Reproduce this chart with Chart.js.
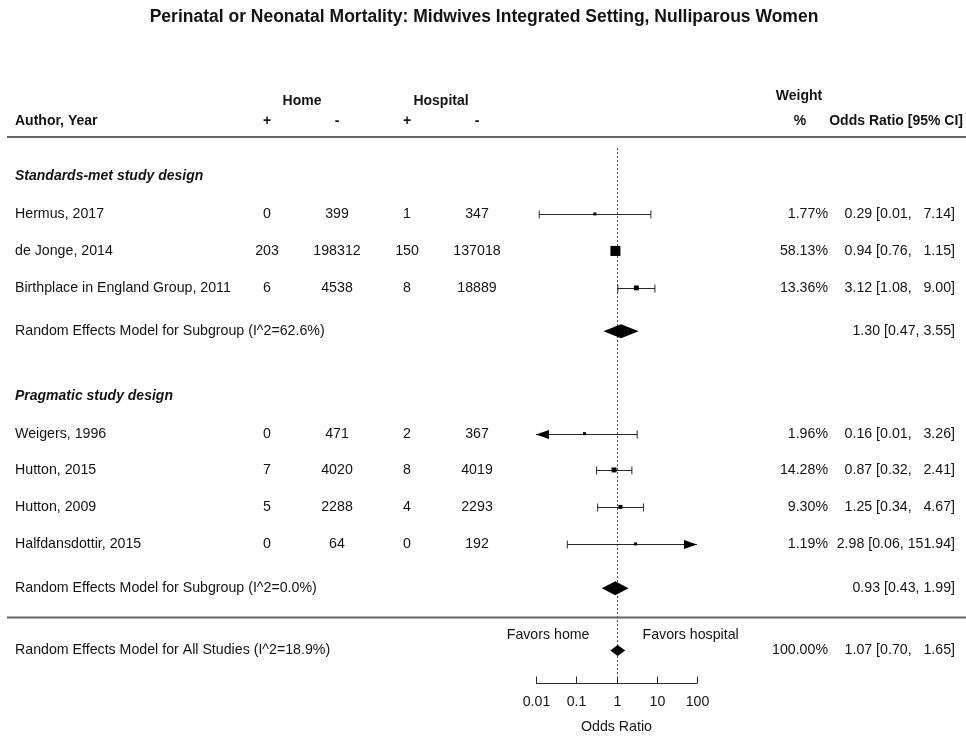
<!DOCTYPE html>
<html>
<head>
<meta charset="utf-8">
<script src="https://cdn.jsdelivr.net/npm/chart.js@4.4.1/dist/chart.umd.min.js"></script>
<style>
  html, body { margin: 0; padding: 0; background: #fff; }
  #wrap { width: 966px; height: 739px; position: relative; }
</style>
</head>
<body>
<div id="wrap"><canvas id="forest"></canvas></div>
<script>
// data
const titleText = "Perinatal or Neonatal Mortality: Midwives Integrated Setting, Nulliparous Women";
const groupNames = ["Standards-met study design", "Pragmatic study design"];
const studies = ["Hermus, 2017", "de Jonge, 2014", "Birthplace in England Group, 2011",
                 "Weigers, 1996", "Hutton, 2015", "Hutton, 2009", "Halfdansdottir, 2015"];
const studyGroup = [0, 0, 0, 1, 1, 1, 1];
const homePos = [0, 203, 6, 0, 7, 5, 0];
const homeNeg = [399, 198312, 4538, 471, 4020, 2288, 64];
const hospPos = [1, 150, 8, 2, 8, 4, 0];
const hospNeg = [347, 137018, 18889, 367, 4019, 2293, 192];
const weights = [1.77, 58.13, 13.36, 1.96, 14.28, 9.30, 1.19];
const oddsRatio = [0.29, 0.94, 3.12, 0.16, 0.87, 1.25, 2.98];
const ciLow = [0.012, 0.76, 1.08, 0.006, 0.32, 0.34, 0.06];   // Weigers lower < 0.01 (shown as arrow)
const ciHigh = [7.14, 1.15, 9.00, 3.26, 2.41, 4.67, 151.94];

const groupI2 = [62.6, 0.0];
const groupOR = [1.30, 0.93];
const groupLow = [0.47, 0.43];
const groupHigh = [3.55, 1.99];

const overallI2 = 18.9;
const overallOR = 1.07;
const overallLow = 0.70;
const overallHigh = 1.65;
const overallWeight = 100;

const axisTicks = [0.01, 0.1, 1, 10, 100];
const axisTickLabels = ["0.01", "0.1", "1", "10", "100"];

// row layout (in row units of the y scale)
const groupRow = [1.07, 7];
const studyRow = [2.08, 3.08, 4.08, 8.02, 9, 10, 11];
const subRow = [5.25, 12.2];
const dividerRow = 12.99;
const favorsRow = 13.47;
const overallRow = 13.88;
const axisRow = 14.76;

const FONT = '"Liberation Sans", Arial, sans-serif';
const BODY = '14.2px ' + FONT;
const TXT = '#141414';
const LINE = '#2a2a2a';

function pad6(v) { return v.toFixed(2).padStart(6, ' '); }

// square size grows with sqrt(weight)
const maxW = Math.max(...weights);
const pointSides = weights.map(w => Math.max(3, 10 * Math.sqrt(w / maxW)));

const forestPlugin = {
  id: 'forest',
  beforeDatasetsDraw(chart) {
    const ctx = chart.ctx;
    const xs = chart.scales.x, ys = chart.scales.y;
    const xmin = xs.min, xmax = xs.max;
    ctx.save();

    // reference line at OR = 1
    ctx.strokeStyle = '#444';
    ctx.lineWidth = 1;
    ctx.setLineDash([2, 2]);
    ctx.beginPath();
    ctx.moveTo(Math.round(xs.getPixelForValue(1)) + 0.5, ys.getPixelForValue(0.3));
    ctx.lineTo(Math.round(xs.getPixelForValue(1)) + 0.5, ys.getPixelForValue(axisRow) - 7);
    ctx.stroke();
    ctx.setLineDash([]);

    // confidence intervals
    ctx.strokeStyle = LINE;
    ctx.fillStyle = '#000';
    studies.forEach((s, i) => {
      const y = Math.round(ys.getPixelForValue(studyRow[i])) + 0.5;
      const lo = Math.max(ciLow[i], xmin), hi = Math.min(ciHigh[i], xmax);
      const x1 = xs.getPixelForValue(lo), x2 = xs.getPixelForValue(hi);
      ctx.beginPath();
      ctx.moveTo(x1, y); ctx.lineTo(x2, y);
      ctx.stroke();
      if (ciLow[i] >= xmin) {
        ctx.beginPath(); ctx.moveTo(x1, y - 4); ctx.lineTo(x1, y + 4); ctx.stroke();
      } else {
        ctx.beginPath(); ctx.moveTo(x1, y); ctx.lineTo(x1 + 13, y - 4.5); ctx.lineTo(x1 + 13, y + 4.5);
        ctx.closePath(); ctx.fill();
      }
      if (ciHigh[i] <= xmax) {
        ctx.beginPath(); ctx.moveTo(x2, y - 4); ctx.lineTo(x2, y + 4); ctx.stroke();
      } else {
        ctx.beginPath(); ctx.moveTo(x2, y); ctx.lineTo(x2 - 13, y - 4.5); ctx.lineTo(x2 - 13, y + 4.5);
        ctx.closePath(); ctx.fill();
      }
    });

    // diamonds
    function diamond(or, lo, hi, row, h) {
      const y = ys.getPixelForValue(row);
      ctx.beginPath();
      ctx.moveTo(xs.getPixelForValue(lo), y);
      ctx.lineTo(xs.getPixelForValue(or), y - h);
      ctx.lineTo(xs.getPixelForValue(hi), y);
      ctx.lineTo(xs.getPixelForValue(or), y + h);
      ctx.closePath();
      ctx.fill();
    }
    groupOR.forEach((or, g) => diamond(or, groupLow[g], groupHigh[g], subRow[g], 7));
    diamond(overallOR, overallLow, overallHigh, overallRow, 5.5);
    ctx.restore();
  },
  afterDraw(chart) {
    const ctx = chart.ctx;
    const xs = chart.scales.x, ys = chart.scales.y;
    const W = chart.width;
    ctx.save();
    ctx.fillStyle = TXT;
    ctx.textBaseline = 'middle';

    function txt(s, x, y, align, font) {
      ctx.font = font || BODY;
      ctx.textAlign = align || 'left';
      ctx.fillText(s, x, y);
    }
    const bold = 'bold 14px ' + FONT;

    // title and header
    txt(titleText, 484, 17, 'center', 'bold 17.5px ' + FONT);
    txt('Home', 302, 101, 'center', bold);
    txt('Hospital', 441, 101, 'center', bold);
    txt('Weight', 799, 96, 'center', bold);
    txt('Author, Year', 15, 121, 'left', bold);
    txt('+', 267, 121, 'center', bold);
    txt('-', 337, 121, 'center', bold);
    txt('+', 407, 121, 'center', bold);
    txt('-', 477, 121, 'center', bold);
    txt('%', 800, 121, 'center', bold);
    txt('Odds Ratio [95% CI]', 963, 121, 'right', bold);

    // divider lines
    ctx.strokeStyle = '#666';
    ctx.lineWidth = 2;
    [137, ys.getPixelForValue(dividerRow)].forEach(y => {
      ctx.beginPath(); ctx.moveTo(7, y); ctx.lineTo(W, y); ctx.stroke();
    });

    // groups and studies
    groupNames.forEach((g, gi) => {
      txt(g, 15, ys.getPixelForValue(groupRow[gi]), 'left', 'italic bold 14px ' + FONT);
      const y = ys.getPixelForValue(subRow[gi]);
      txt('Random Effects Model for Subgroup (I^2=' + groupI2[gi].toFixed(1) + '%)', 15, y);
      txt(groupOR[gi].toFixed(2) + ' [' + groupLow[gi].toFixed(2) + ', ' + groupHigh[gi].toFixed(2) + ']', 955, y, 'right');
    });
    studies.forEach((s, i) => {
      const y = ys.getPixelForValue(studyRow[i]);
      txt(s, 15, y);
      txt(String(homePos[i]), 267, y, 'center');
      txt(String(homeNeg[i]), 337, y, 'center');
      txt(String(hospPos[i]), 407, y, 'center');
      txt(String(hospNeg[i]), 477, y, 'center');
      txt(weights[i].toFixed(2) + '%', 828, y, 'right');
      txt(oddsRatio[i].toFixed(2) + ' [' + ciLow[i].toFixed(2) + ',' + ' ' + pad6(ciHigh[i]) + ']', 955, y, 'right');
    });

    // overall
    const yo = ys.getPixelForValue(overallRow);
    txt('Random Effects Model for All Studies (I^2=' + overallI2.toFixed(1) + '%)', 15, yo);
    txt(overallWeight.toFixed(2) + '%', 828, yo, 'right');
    txt(overallOR.toFixed(2) + ' [' + overallLow.toFixed(2) + ', ' + pad6(overallHigh) + ']', 955, yo, 'right');

    const yf = ys.getPixelForValue(favorsRow);
    const x1 = xs.getPixelForValue(1);
    txt('Favors home', x1 - 27, yf, 'right');
    txt('Favors hospital', x1 + 26, yf, 'left');

    // x axis
    const ya = Math.round(ys.getPixelForValue(axisRow)) + 0.5;
    ctx.strokeStyle = LINE;
    ctx.lineWidth = 1;
    ctx.beginPath();
    ctx.moveTo(xs.getPixelForValue(axisTicks[0]), ya);
    ctx.lineTo(xs.getPixelForValue(axisTicks[axisTicks.length - 1]), ya);
    ctx.stroke();
    axisTicks.forEach((t, k) => {
      const x = Math.round(xs.getPixelForValue(t)) + 0.5;
      ctx.beginPath(); ctx.moveTo(x, ya); ctx.lineTo(x, ya - 7); ctx.stroke();
      txt(axisTickLabels[k], x, ya + 19, 'center');
    });
    txt('Odds Ratio', x1, ya + 44, 'center');
    ctx.restore();
  }
};

new Chart(document.getElementById('forest'), {
  type: 'scatter',
  data: {
    datasets: [{
      data: studies.map((s, i) => ({ x: oddsRatio[i], y: studyRow[i] })),
      pointStyle: 'rect',
      pointRadius: pointSides.map(s => s / Math.SQRT2),
      backgroundColor: '#000',
      borderWidth: 0
    }]
  },
  options: {
    responsive: true,
    maintainAspectRatio: false,
    animation: false,
    events: [],
    layout: { padding: { left: 536, right: 269, top: 137, bottom: 56 } },
    scales: {
      x: { type: 'logarithmic', min: 0.01, max: 100, display: false },
      y: { type: 'linear', min: 0, max: 14.76, reverse: true, display: false }
    },
    plugins: { legend: { display: false }, tooltip: { enabled: false }, title: { display: false } }
  },
  plugins: [forestPlugin]
});
</script>
</body>
</html>
